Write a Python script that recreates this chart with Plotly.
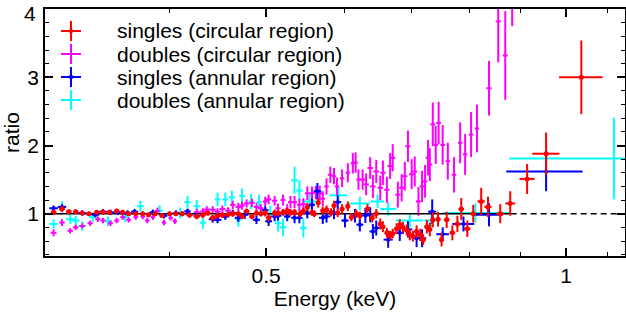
import plotly.graph_objects as go
import math

# ---------------- data ----------------
series_names = ["singles (circular region)", "doubles (circular region)",
                "singles (annular region)", "doubles (annular region)"]
series_colors = ["#ff0000", "#ff00ff", "#0000ff", "#00ffff"]

# singles, circular region (red)
e_sc = [0.306,0.312,0.317,0.322,0.327,0.332,0.338,0.343,0.348,0.354,0.359,0.364,0.370,0.376,0.381,0.387,0.393,0.400,0.406,0.412,
        0.419,0.426,0.432,0.437,0.442,0.447,0.452,0.458,0.463,0.469,
        0.473,0.478,0.484,0.489,0.494,0.499,0.503,0.510,0.514,0.520,
        0.525,0.529,0.534,0.541,0.545,0.550,0.556,0.559,0.564,0.570,
        0.575,0.581,0.585,0.590,0.596,0.604,0.609,0.616,0.621,0.632,
        0.639,0.645,0.651,0.655,0.661,0.666,0.670,0.676,0.681,0.686,
        0.692,0.697,0.702,0.708,0.714,0.719,0.725,0.730,0.735,0.744,
        0.750,0.759,0.769,0.778,0.785,0.796,0.807,0.822,0.835,0.859,
        0.879,0.914,0.955,1.036]
r_sc = [1.02,1.07,1.03,1.03,1.01,1.00,1.02,1.025,1.02,1.04,1.02,1.00,1.00,1.00,0.985,1.00,0.975,1.00,1.00,1.00,
        0.98,0.96,0.98,1.01,0.94,0.97,0.98,0.99,1.00,1.00,
        0.96,1.035,0.96,1.01,1.00,1.01,0.94,1.01,1.01,1.02,
        1.035,1.02,1.02,1.00,1.035,1.10,1.02,1.00,1.16,1.045,
        1.06,1.02,1.12,1.01,1.07,1.11,0.95,1.00,0.97,1.07,
        0.94,1.00,0.85,0.81,0.72,0.68,0.71,0.78,0.84,0.80,
        0.76,0.69,0.67,0.74,0.69,0.62,0.81,0.77,0.91,0.92,
        0.62,0.91,0.72,0.85,1.07,0.78,1.00,1.18,1.10,1.00,
        1.15,1.51,1.88,3.00]
dr_sc = [0.04,0.04,0.03,0.03,0.03,0.03,0.03,0.03,0.03,0.03,0.03,0.03,0.03,0.03,0.03,0.03,0.03,0.03,0.03,0.03,
         0.03,0.04,0.04,0.04,0.04,0.04,0.04,0.04,0.04,0.04,
         0.04,0.04,0.04,0.04,0.04,0.05,0.05,0.05,0.05,0.05,
         0.05,0.05,0.05,0.05,0.05,0.06,0.05,0.05,0.07,0.06,
         0.06,0.06,0.07,0.06,0.07,0.07,0.06,0.06,0.06,0.07,
         0.07,0.07,0.08,0.08,0.07,0.07,0.07,0.08,0.08,0.08,
         0.08,0.08,0.08,0.09,0.09,0.08,0.10,0.10,0.11,0.11,
         0.10,0.12,0.11,0.12,0.16,0.12,0.13,0.20,0.15,0.14,
         0.18,0.22,0.31,0.54]
de_sc = [0.002,0.002,0.002,0.002,0.002,0.002,0.002,0.002,0.002,0.002,0.002,0.002,0.002,0.002,0.002,0.002,0.002,0.002,0.002,0.002,
         0.003,0.003,0.003,0.003,0.003,0.003,0.003,0.003,0.003,0.003,
         0.003,0.003,0.003,0.003,0.003,0.003,0.003,0.003,0.003,0.003,
         0.003,0.003,0.003,0.003,0.003,0.003,0.003,0.003,0.003,0.003,
         0.003,0.003,0.003,0.003,0.003,0.003,0.003,0.003,0.003,0.003,
         0.003,0.003,0.003,0.003,0.003,0.003,0.003,0.003,0.003,0.003,
         0.004,0.004,0.004,0.004,0.004,0.004,0.004,0.004,0.004,0.004,
         0.004,0.005,0.005,0.005,0.005,0.006,0.006,0.007,0.007,0.008,
         0.010,0.016,0.030,0.052]

# doubles, circular region (magenta)
e_dc = [0.306,0.312,0.318,0.322,0.327,0.333,0.339,0.343,0.349,0.354,0.359,0.364,0.370,0.376,0.380,0.385,0.389,0.395,0.401,0.405,
        0.412,0.419,0.426,0.432,0.436,0.442,0.447,0.452,0.458,0.463,0.469,0.473,0.478,0.484,0.489,0.494,0.499,0.503,0.510,0.514,
        0.520,0.525,0.529,0.534,0.540,0.545,0.550,0.556,0.561,0.566,0.570,0.575,0.580,0.585,0.589,0.596,0.604,0.611,0.615,0.619,
        0.625,0.630,0.636,0.640,0.645,0.651,0.655,0.661,0.666,0.670,0.678,0.684,0.689,0.694,0.700,0.705,0.711,0.717,0.722,0.727,
        0.730,0.735,0.740,0.745,0.752,0.761,0.772,0.783,0.792,0.803,0.814,0.837,0.855,0.869,0.883]
r_dc = [0.72,0.87,0.75,0.80,0.82,0.86,0.92,0.90,0.86,0.90,0.95,0.91,0.95,0.96,0.90,0.95,1.04,0.87,0.94,0.89,
        1.00,0.99,1.02,1.03,1.06,1.06,1.03,1.07,1.045,1.13,1.10,1.12,1.15,1.16,1.10,1.08,1.18,1.21,1.19,1.08,
        1.20,1.06,1.17,1.17,1.13,1.14,1.30,1.30,1.31,1.30,1.22,1.40,1.57,1.55,1.40,1.52,1.60,1.74,1.75,1.50,
        1.50,1.43,1.67,1.40,1.62,1.38,1.60,1.35,1.70,1.82,1.28,1.38,1.55,1.99,1.58,1.62,1.18,1.40,1.475,1.82,
        1.72,2.31,2.01,2.33,2.01,1.77,1.57,2.04,1.87,2.16,2.25,2.84,3.82,3.32,4.35]
dr_dc = [0.05,0.05,0.04,0.04,0.04,0.04,0.04,0.04,0.04,0.04,0.04,0.04,0.04,0.04,0.04,0.04,0.05,0.04,0.04,0.04,
         0.04,0.05,0.05,0.05,0.05,0.05,0.05,0.05,0.05,0.06,0.06,0.06,0.06,0.06,0.06,0.06,0.07,0.07,0.07,0.07,
         0.08,0.08,0.09,0.09,0.09,0.09,0.10,0.10,0.10,0.11,0.11,0.12,0.12,0.12,0.13,0.13,0.14,0.15,0.15,0.15,
         0.15,0.16,0.16,0.17,0.17,0.18,0.18,0.19,0.19,0.20,0.19,0.20,0.21,0.23,0.22,0.22,0.21,0.23,0.24,0.26,
         0.24,0.32,0.28,0.31,0.29,0.27,0.26,0.30,0.30,0.33,0.35,0.40,0.60,0.65,0.60]
de_dc = [0.002,0.002,0.002,0.002,0.002,0.002,0.002,0.002,0.002,0.002,0.002,0.002,0.002,0.002,0.002,0.002,0.002,0.002,0.002,0.002,
         0.003,0.003,0.003,0.003,0.003,0.003,0.003,0.003,0.003,0.003,0.003,0.003,0.003,0.003,0.003,0.003,0.003,0.003,0.003,0.003,
         0.003,0.003,0.003,0.003,0.003,0.003,0.003,0.003,0.003,0.003,0.003,0.003,0.003,0.003,0.003,0.003,0.003,0.003,0.003,0.003,
         0.004,0.004,0.004,0.004,0.004,0.004,0.004,0.004,0.004,0.004,0.004,0.004,0.004,0.004,0.004,0.004,0.004,0.004,0.004,0.004,
         0.004,0.004,0.004,0.004,0.004,0.004,0.004,0.004,0.004,0.004,0.004,0.005,0.005,0.005,0.005]

# singles, annular region (blue)
e_sa = [0.306,0.312,0.327,0.337,0.343,0.349,0.355,0.363,0.369,0.385,0.395,0.406,0.417,0.426,
        0.442,0.447,0.455,0.463,0.469,0.476,0.489,0.499,0.503,0.510,0.514,0.525,0.534,0.540,0.550,0.556,
        0.563,0.570,0.575,0.585,0.590,0.600,0.614,0.621,0.629,0.636,0.640,0.645,
        0.663,0.681,0.694,0.708,0.717,0.734,0.752,0.789,0.837,0.955]
r_sa = [1.08,1.10,1.01,0.985,1.03,1.02,1.02,1.01,1.03,1.02,0.97,1.01,1.035,0.97,
        0.92,0.91,0.96,1.01,0.94,0.985,0.91,1.05,0.89,0.96,0.97,0.96,0.94,0.94,1.01,1.13,
        1.33,0.94,0.96,1.01,1.17,0.90,0.97,0.84,0.975,0.985,0.74,0.79,
        0.62,0.72,0.77,0.64,0.64,1.03,0.70,0.85,0.985,1.62]
dr_sa = [0.04,0.04,0.04,0.04,0.04,0.04,0.04,0.04,0.04,0.04,0.04,0.04,0.04,0.04,
         0.05,0.05,0.05,0.05,0.06,0.06,0.06,0.06,0.07,0.07,0.07,0.07,0.08,0.08,0.08,0.09,
         0.12,0.09,0.09,0.09,0.10,0.10,0.10,0.10,0.11,0.11,0.11,0.11,
         0.12,0.12,0.12,0.13,0.13,0.18,0.10,0.11,0.17,0.29]
de_sa = [0.003,0.003,0.003,0.003,0.003,0.003,0.003,0.003,0.003,0.003,0.003,0.003,0.003,0.003,
         0.004,0.004,0.004,0.004,0.004,0.004,0.004,0.004,0.004,0.004,0.004,0.004,0.004,0.004,0.004,0.004,
         0.005,0.005,0.005,0.005,0.005,0.005,0.005,0.005,0.005,0.005,0.005,0.005,
         0.007,0.007,0.007,0.007,0.007,0.007,0.011,0.020,0.027,0.084]

# doubles, annular region (cyan)
e_da = [0.306,0.312,0.318,0.322,0.327,0.335,0.347,0.361,0.374,0.391,0.410,0.417,0.426,0.432,0.447,0.455,0.462,0.469,0.473,0.483,
        0.492,0.505,0.514,0.520,0.534,0.540,0.545,0.553,0.591,0.621,0.647,0.663,0.697,0.733,0.811,1.117]
r_da = [0.85,1.10,0.92,0.90,0.82,0.95,0.89,0.95,1.11,1.045,1.01,1.17,1.11,0.87,1.21,1.21,1.24,0.91,1.26,1.18,
        1.17,1.00,0.86,0.80,1.49,1.34,0.79,1.18,1.27,1.15,1.18,1.07,0.90,0.90,1.01,1.81]
dr_da = [0.07,0.08,0.07,0.07,0.07,0.07,0.07,0.07,0.08,0.08,0.08,0.09,0.09,0.09,0.10,0.10,0.10,0.10,0.11,0.11,
         0.11,0.12,0.12,0.13,0.20,0.15,0.14,0.12,0.12,0.10,0.10,0.10,0.10,0.10,0.14,0.60]
de_da_plus = [0.003,0.003,0.003,0.003,0.003,0.003,0.003,0.003,0.003,0.003,0.003,0.003,0.003,0.003,0.003,0.003,0.003,0.003,0.003,0.003,
              0.003,0.004,0.004,0.004,0.004,0.004,0.004,0.010,0.012,0.015,0.010,0.012,0.022,0.012,0.066,0.300]
de_da_minus = [0.003,0.003,0.003,0.003,0.003,0.003,0.003,0.003,0.003,0.003,0.003,0.003,0.003,0.003,0.003,0.003,0.003,0.003,0.003,0.003,
               0.003,0.004,0.004,0.004,0.004,0.004,0.004,0.010,0.012,0.015,0.010,0.012,0.022,0.012,0.059,0.240]

# model (ratio = 1)
model_e_solid = [0.30, 0.88]
model_e_dashed = [0.88, 1.146]
model_ratio = [1.0, 1.0]

x_range = [0.300, 1.146]
y_range = [0.38, 4.002]
x_major = [0.5, 1.0]
x_major_text = ["0.5", "1"]
x_minor = [0.3, 0.4, 0.6, 0.7, 0.8, 0.9, 1.1]
y_major = [1, 2, 3, 4]
y_major_text = ["1", "2", "3", "4"]
y_minor = [0.4, 0.6, 0.8, 1.2, 1.4, 1.6, 1.8, 2.2, 2.4, 2.6, 2.8, 3.2, 3.4, 3.6, 3.8]

# ---------------- figure ----------------
FONT = "Liberation Sans, Arial, Helvetica, sans-serif"
FS = 21
fig = go.Figure()

def add_series(e, r, dr, dep, dem, color, msize):
    fig.add_trace(go.Scatter(
        x=e, y=r, mode="markers",
        marker=dict(color=color, size=msize, line=dict(width=0)),
        error_y=dict(type="data", array=dr, visible=True, color=color, thickness=2, width=0),
        error_x=dict(type="data", array=dep, arrayminus=dem, visible=True, color=color, thickness=2, width=0),
        showlegend=False, hoverinfo="x+y"))

add_series(e_da, r_da, dr_da, de_da_plus, de_da_minus, series_colors[3], 2)
add_series(e_dc, r_dc, dr_dc, de_dc, de_dc, series_colors[1], 2)

fig.add_trace(go.Scatter(x=model_e_solid, y=model_ratio, mode="lines",
                         line=dict(color="black", width=1.6), showlegend=False, hoverinfo="skip"))
fig.add_trace(go.Scatter(x=model_e_dashed, y=model_ratio, mode="lines",
                         line=dict(color="black", width=1.6, dash="6px,4px"), showlegend=False, hoverinfo="skip"))

add_series(e_sa, r_sa, dr_sa, de_sa, de_sa, series_colors[2], 4)
add_series(e_sc, r_sc, dr_sc, de_sc, de_sc, series_colors[0], 5)

# ---- legend (drawn as layout decorations) ----
L, R, T, B = 45, 1, 9, 64
W, H = 626, 320
pw, ph = W - L - R, H - T - B
row_py = [31, 54, 77, 100]
sym_px, text_px = 71, 116
shapes, annotations = [], []
for i, (name, col) in enumerate(zip(series_names, series_colors)):
    yc = (H - B - row_py[i]) / ph
    xc = (sym_px - L) / pw
    shapes.append(dict(type="line", xref="paper", yref="paper", x0=xc - 10 / pw, x1=xc + 10 / pw,
                       y0=yc, y1=yc, line=dict(color=col, width=2)))
    shapes.append(dict(type="line", xref="paper", yref="paper", x0=xc, x1=xc,
                       y0=yc - 10 / ph, y1=yc + 10 / ph, line=dict(color=col, width=2)))
    if i in (0, 2):
        shapes.append(dict(type="circle", xref="paper", yref="paper", x0=xc - 2.2 / pw, x1=xc + 2.2 / pw,
                           y0=yc - 2.2 / ph, y1=yc + 2.2 / ph, fillcolor=col, line=dict(color=col, width=0)))
    annotations.append(dict(text=name, xref="paper", yref="paper", x=(text_px - L) / pw, y=yc,
                            xanchor="left", yanchor="middle", showarrow=False,
                            font=dict(family=FONT, size=FS, color="black"), borderpad=0))

# the topmost y tick label sits slightly below its tick (kept inside the page)
annotations.append(dict(text=y_major_text[-1], xref="paper", yref="y", x=-8 / pw, y=y_major[-1],
                        xanchor="right", yanchor="middle", yshift=-4, showarrow=False,
                        font=dict(family=FONT, size=FS, color="black"), borderpad=0))

axis_common = dict(showline=True, linecolor="black", linewidth=1.5, mirror="ticks",
                   ticks="inside", ticklen=8, tickwidth=1.5, tickcolor="black",
                   showgrid=False, zeroline=False, automargin=False,
                   tickfont=dict(family=FONT, size=FS, color="black"))

fig.update_layout(
    width=W, height=H, margin=dict(l=L, r=R, t=T, b=B, autoexpand=False),
    paper_bgcolor="white", plot_bgcolor="white",
    showlegend=False, shapes=shapes, annotations=annotations,
    font=dict(family=FONT, color="black"),
    xaxis=dict(type="log", range=[math.log10(x_range[0]), math.log10(x_range[1])],
               tickmode="array", tickvals=x_major, ticktext=x_major_text,
               minor=dict(tickmode="array", tickvals=x_minor, ticks="inside", ticklen=4,
                          tickwidth=1.2, tickcolor="black", showgrid=False),
               title=dict(text="Energy (keV)", font=dict(family=FONT, size=FS, color="black"), standoff=4),
               **axis_common),
    yaxis=dict(range=y_range, tickmode="array", tickvals=y_major,
               ticktext=y_major_text[:-1] + [""],
               minor=dict(tickmode="array", tickvals=y_minor, ticks="inside", ticklen=4,
                          tickwidth=1.2, tickcolor="black", showgrid=False),
               title=dict(text="ratio", font=dict(family=FONT, size=FS, color="black"), standoff=6),
               **axis_common),
)

fig.write_html("out.html", config={"displayModeBar": False},
               post_script="document.body.style.margin='0';document.body.style.overflow='hidden';")
